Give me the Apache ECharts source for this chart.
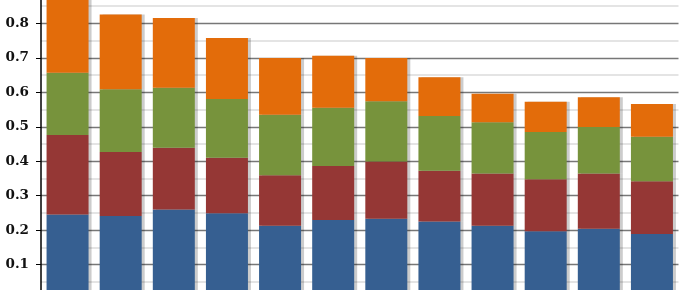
<!DOCTYPE html>
<html>
<head>
<meta charset="utf-8">
<script src="https://cdn.jsdelivr.net/npm/echarts@6/dist/echarts.min.js"></script>
<style>html,body{margin:0;padding:0;background:#fff;overflow:hidden;width:680px;height:290px}#c{position:absolute;left:0;top:-11px;width:680px;height:310px}</style>
</head>
<body>
<div id="c"></div>
<script>
const categories = ['1','2','3','4','5','6','7','8','9','10','11','12'];
const blue   = [0.245,0.241,0.260,0.249,0.213,0.229,0.233,0.225,0.213,0.197,0.204,0.189];
const red    = [0.231,0.186,0.179,0.161,0.146,0.157,0.166,0.147,0.151,0.151,0.160,0.153];
const green  = [0.181,0.182,0.174,0.171,0.176,0.169,0.175,0.159,0.149,0.137,0.135,0.129];
const orange = [0.223,0.217,0.203,0.177,0.165,0.151,0.126,0.113,0.083,0.088,0.087,0.095];
const yTicks = [0.1,0.2,0.3,0.4,0.5,0.6,0.7,0.8];

const chart = echarts.init(document.getElementById('c'), null, {renderer:'canvas'});
function mk(name, data, color){
  return {
    name, type:'bar', stack:'t', data, barWidth:42,
    itemStyle:{color, shadowColor:'rgba(0,0,0,0.2)', shadowBlur:0, shadowOffsetX:3, shadowOffsetY:0},
    animation:false
  };
}
chart.setOption({
  animation:false,
  grid:{left:41, right:1.5, top:0, bottom:0, containLabel:false},
  xAxis:{type:'category', data:categories, axisLine:{show:false}, axisTick:{show:false}, axisLabel:{show:false}},
  yAxis:{type:'value', min:0, max:0.9, interval:0.1,
    axisLine:{show:true, lineStyle:{color:'#000', width:1.5}},
    axisTick:{show:true, length:5, lineStyle:{color:'#000', width:1}},
    axisLabel:{margin:12, fontFamily:'DejaVu Serif', fontWeight:'bold', fontSize:13.5, color:'#111',
      formatter:v => yTicks.some(t=>Math.abs(t-v)<1e-9) ? v.toFixed(1) : ''},
    splitLine:{show:true, lineStyle:{color:'#777', width:1.3}},
    minorTick:{show:false, splitNumber:2},
    minorSplitLine:{show:true, lineStyle:{color:'#dcdcdc', width:1.5}}
  },
  series:[mk('A',blue,'#365f91'), mk('B',red,'#953735'), mk('C',green,'#77933c'), mk('D',orange,'#e36c0a')]
});
</script>
</body>
</html>
